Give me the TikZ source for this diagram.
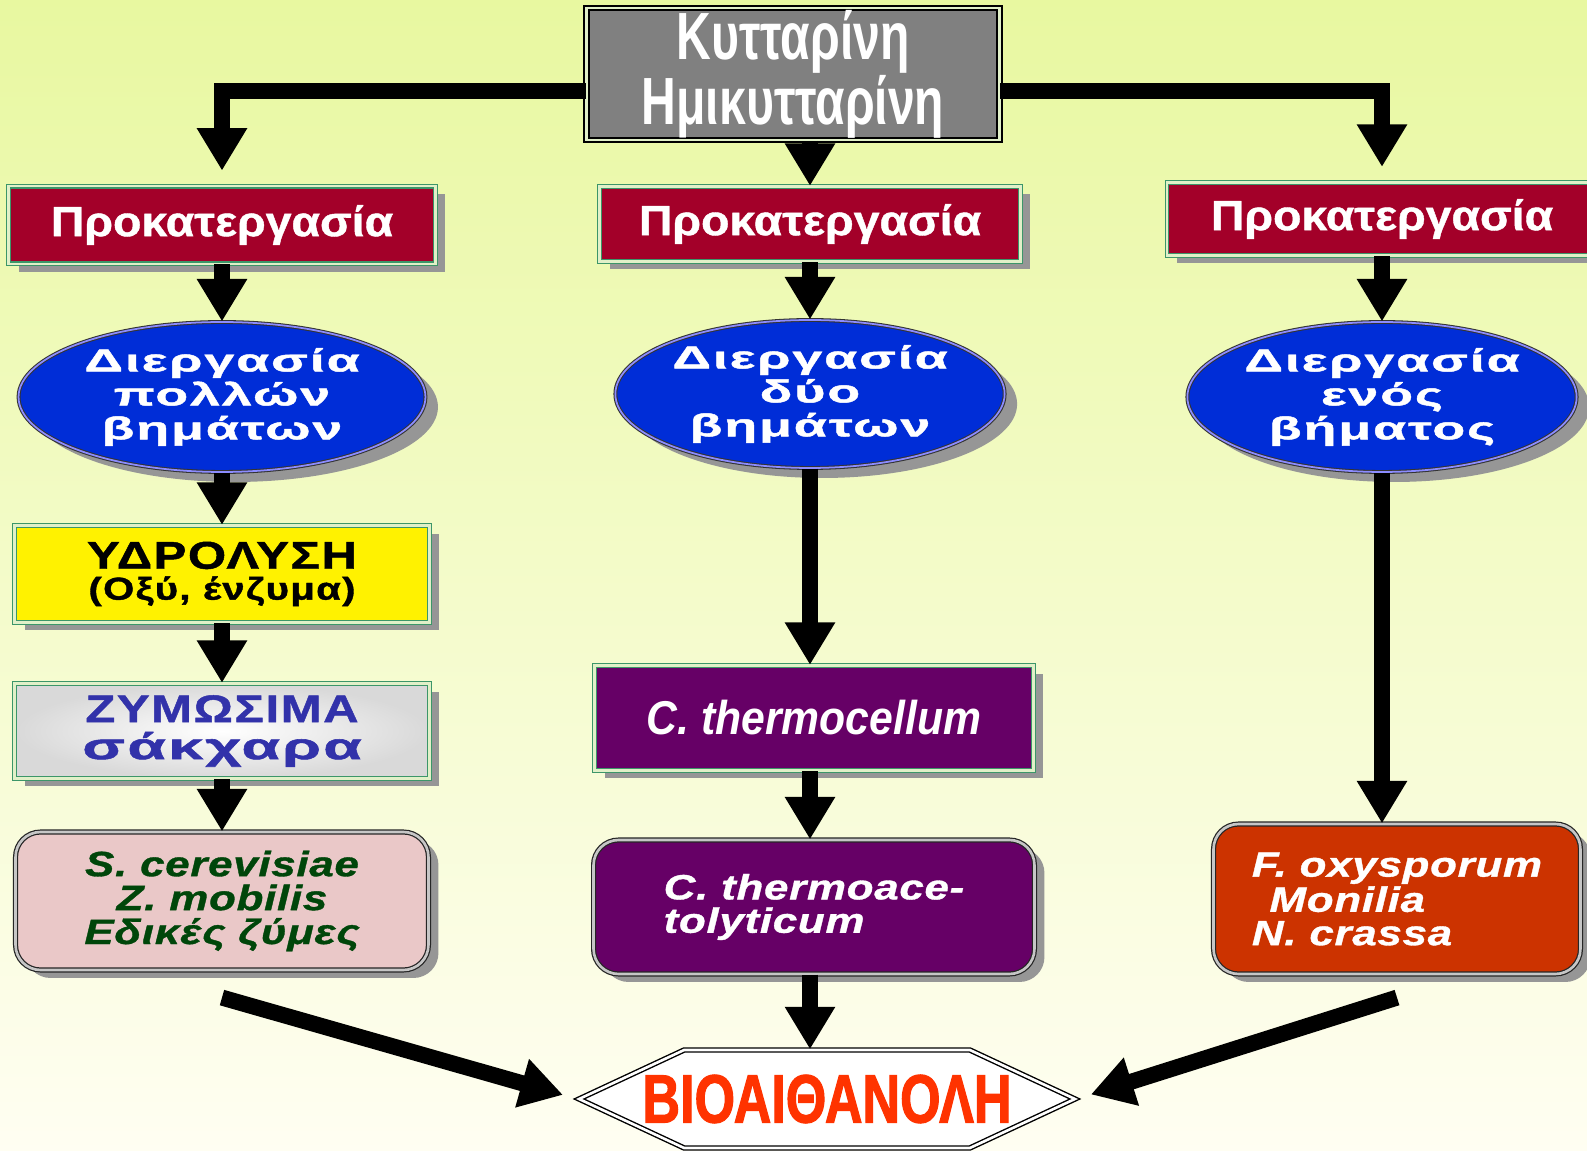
\documentclass[tikz,border=0pt]{standalone}
\usepackage{fontspec}
\setmainfont{Liberation Sans}
\newfontfamily\narrowfont[FakeStretch=0.72]{Liberation Sans}
\newfontfamily\prefont[FakeStretch=1.1,FakeBold=1]{Liberation Sans}
\newfontfamily\widefont[FakeStretch=1.7,LetterSpace=6,FakeBold=1.5]{Liberation Sans}
\newfontfamily\midfont[FakeStretch=1.27,LetterSpace=4,FakeBold=1.2]{Liberation Sans}
\newfontfamily\italfont[FakeStretch=1.25,LetterSpace=2,FakeBold=1]{Liberation Sans}
\newfontfamily\cthfont[FakeStretch=0.9]{Liberation Sans}
\newfontfamily\biofont[FakeStretch=0.76,FakeBold=1.5]{Liberation Sans}
\usetikzlibrary{shapes.geometric,shapes.symbols,arrows.meta,shadows}

\definecolor{bgtop}{RGB}{232,248,160}
\definecolor{bgbot}{RGB}{255,254,242}
\definecolor{titlegray}{RGB}{128,128,128}
\definecolor{crimson}{RGB}{163,0,41}
\definecolor{boxgreen}{RGB}{60,150,105}
\definecolor{boxpale}{RGB}{225,240,200}
\definecolor{procblue}{RGB}{0,45,215}
\definecolor{shadowgray}{RGB}{150,150,150}
\definecolor{sugarblue}{RGB}{50,50,170}
\definecolor{yeastpink}{RGB}{234,200,200}
\definecolor{yeastgreen}{RGB}{0,70,10}
\definecolor{cthpurple}{RGB}{102,0,102}
\definecolor{fusorange}{RGB}{204,51,0}
\definecolor{biored}{RGB}{255,51,0}

\begin{document}
\begin{tikzpicture}[x=0.02cm, y=-0.02cm,
  arr/.style={line width=0.32cm, -{Triangle[width=0.95cm,length=0.85cm]}},
  boxshadow/.style={drop shadow={shadow xshift=0.2cm, shadow yshift=-0.16cm, fill=shadowgray, opacity=1}},
  greenbox/.style={rectangle, draw=boxgreen, line width=0.7pt, double=boxpale, double distance=1.2pt, inner sep=0pt, boxshadow},
  prebox/.style={greenbox, fill=crimson, text=white, minimum height=1.55cm, font=\prefont\fontsize{24}{28}\selectfont\bfseries},
  procell/.style={ellipse, fill=procblue, draw=black!80, line width=0.6pt, double=blue!45!white, double distance=1pt,
    text=white, inner sep=0pt, align=center, font=\widefont\fontsize{18}{19.3}\selectfont\bfseries,
    drop shadow={shadow xshift=0.25cm, shadow yshift=-0.2cm, fill=shadowgray, opacity=1}},
  roundbox/.style={rectangle, rounded corners=0.5cm, draw=black!85, line width=0.7pt, double=gray!45!white, double distance=1.5pt, inner sep=0pt, boxshadow},
]
\useasboundingbox (0,0) rectangle (1587,1151);
\clip (0,0) rectangle (1587,1151);
\shade[top color=bgtop, bottom color=bgbot] (0,0) rectangle (1587,1151);

\node[rectangle, fill=titlegray, draw=black, line width=1pt, double=boxpale, double distance=1.5pt,
  minimum width=8.26cm, minimum height=2.64cm, inner sep=0pt, text=white, align=center,
  font=\narrowfont\fontsize{38}{37}\selectfont\bfseries] (cell) at (793,74) {Κυτταρίνη\\Ημικυτταρίνη};

% pretreatment row
\node[prebox, minimum width=8.54cm] (preL) at (222,225) {Προκατεργασία};
\node[prebox, minimum width=8.42cm, minimum height=1.5cm] (preM) at (810,224) {Προκατεργασία};
\node[prebox, minimum width=8.6cm, minimum height=1.46cm] (preR) at (1382,219) {Προκατεργασία};

\node[procell, minimum width=8.14cm, minimum height=3cm] (stepsL) at (222,397) {Διεργασία\\πολλών\\βημάτων};
\node[procell, minimum width=7.7cm, minimum height=2.96cm] (stepsM) at (810,394) {Διεργασία\\δύο\\βημάτων};
\node[procell, minimum width=7.38cm, minimum height=3cm] (stepsR) at (1382,397) {Διεργασία\\ενός\\βήματος};

% left branch
\node[greenbox, fill=yellow, minimum width=8.3cm, minimum height=1.94cm, align=center,
  font=\midfont\bfseries\fontsize{18}{17.6}\selectfont] (hydro) at (222,574)
  {{\fontsize{22}{17.6}\selectfont ΥΔΡΟΛΥΣΗ}\\(Οξύ, ένζυμα)};
\node[greenbox, inner color=white, outer color=gray!30, minimum width=8.3cm, minimum height=1.9cm, align=center,
  text=sugarblue, font=\bfseries\fontsize{21}{21}\selectfont] (sugar) at (222,731)
  {{\midfont\fontsize{22}{21}\selectfont ΖΥΜΩΣΙΜΑ}\\{\widefont σάκχαρα}};
\node[roundbox, fill=yeastpink, minimum width=8.26cm, minimum height=2.76cm, align=center, text=yeastgreen,
  font=\italfont\fontsize{20}{19.3}\selectfont\bfseries\itshape] (yeast) at (222,901)
  {S. cerevisiae\\Z. mobilis\\Εδικές ζύμες};

% middle branch
\node[greenbox, fill=cthpurple, text=white, minimum width=8.78cm, minimum height=2.1cm,
  font=\cthfont\fontsize{27}{28}\selectfont\bfseries\itshape] (cthermo) at (814,718) {C. thermocellum};
\node[roundbox, fill=cthpurple, text=white, minimum width=8.82cm, minimum height=2.68cm, align=left,
  font=\italfont\fontsize{20}{19}\selectfont\bfseries\itshape] (cthacet) at (814,907) {C. thermoace-\\tolyticum};

% right branch
\node[roundbox, fill=fusorange, text=white, minimum width=7.34cm, minimum height=3cm, align=left,
  font=\italfont\fontsize{20}{19}\selectfont\bfseries\itshape] (fungi) at (1397,899)
  {F. oxysporum\\[1pt]\hspace{0.5em}Monilia\\[0pt]N. crassa};

\node[signal, signal to=west and east, signal pointer angle=50, draw=black, line width=0.8pt, double=white,
  double distance=1.5pt, fill=white, minimum width=9.92cm, minimum height=1.96cm, inner xsep=-2cm, inner ysep=0pt,
  text=biored, font=\biofont\fontsize{39}{39}\selectfont\bfseries] (bio) at (827,1099) {ΒΙΟΑΙΘΑΝΟΛΗ};

\draw[arr, shorten >=0.3cm] ([yshift=-0.34cm]cell.west) -| (preL);
\draw[arr, shorten >=0.3cm] ([yshift=-0.34cm]cell.east) -| (preR);
\draw[arr] (cell.south -| preM) -- (preM);

\draw[arr] (preL) -- (stepsL);
\draw[arr] (stepsL) -- (hydro);
\draw[arr] (hydro) -- (sugar);
\draw[arr] (sugar) -- (yeast);

\draw[arr] (preM) -- (stepsM);
\draw[arr] (stepsM) -- (stepsM |- cthermo.north);
\draw[arr] (stepsM |- cthermo.south) -- (stepsM |- cthacet.north);
\draw[arr] (stepsM |- cthacet.south) -- (stepsM |- bio.north);

\draw[arr] (preR) -- (stepsR);
\draw[arr] (stepsR) -- (stepsR |- fungi.north);

\draw[arr, shorten >=0.3cm] ([yshift=-0.54cm]yeast.south) -- (bio.west);
\draw[arr, shorten >=0.3cm] ([yshift=-0.46cm]fungi.south) -- (bio.east);
\end{tikzpicture}
\end{document}
